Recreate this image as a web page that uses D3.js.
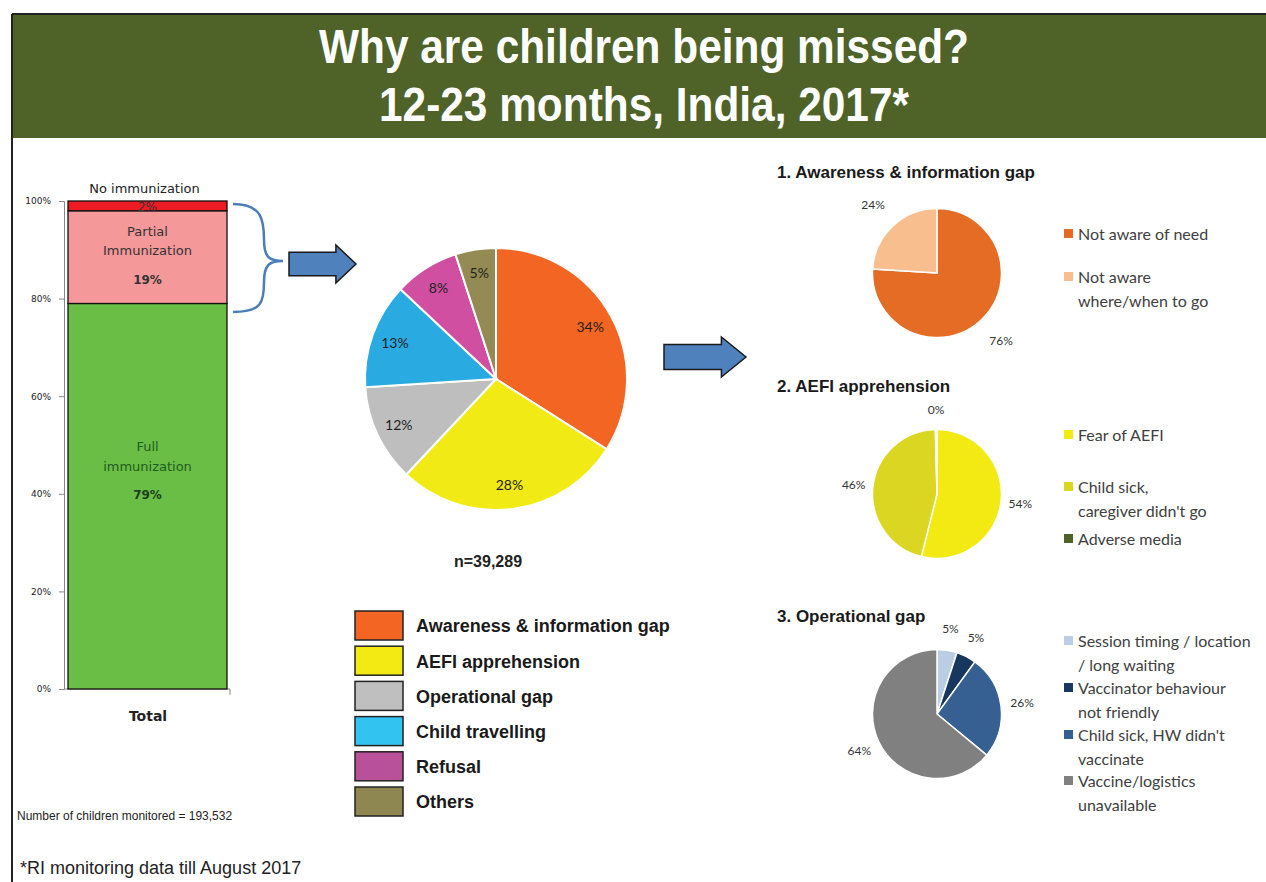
<!DOCTYPE html>
<html>
<head>
<meta charset="utf-8">
<script src="https://cdn.jsdelivr.net/npm/d3@7"></script>
<style>
  body { margin: 0; background: #fff; }
  svg { display: block; }
  .tick text { font-family: Tahoma, "DejaVu Sans", sans-serif; }
</style>
</head>
<body>
<svg class="chart" width="1266" height="882"></svg>
<script>
// stacked bar: coverage of children monitored
const barCats = ["Full immunization", "Partial Immunization", "No immunization"];
const barValues = [79, 19, 2];
const barColors = ["#6abd45", "#f4989a", "#ed1c24"];
const barTicks = [0, 20, 40, 60, 80, 100];

// main pie: reasons for missing
const reasons = ["Awareness & information gap", "AEFI apprehension", "Operational gap", "Child travelling", "Refusal", "Others"];
const reasonValues = [34, 28, 12, 13, 8, 5];
const reasonColors = ["#f26522", "#f2ea14", "#bebebe", "#29abe2", "#d04fa0", "#948a54"];
const legendColors = ["#f26522", "#f2ea12", "#bfbfbf", "#33c3f0", "#b9519a", "#8f8752"];

// sub pies
const awareCats = ["Not aware of need", "Not aware\nwhere/when to go"];
const awareValues = [76, 24];
const awareColors = ["#e46c24", "#f9be8e"];

const aefiCats = ["Fear of AEFI", "Child sick,\ncaregiver didn't go", "Adverse media"];
const aefiValues = [53.9, 45.7, 0.4];
const aefiColors = ["#f2ea12", "#dad622", "#4f6228"];

const opCats = ["Session timing / location\n/ long waiting", "Vaccinator behaviour\nnot friendly", "Child sick, HW didn't\nvaccinate", "Vaccine/logistics\nunavailable"];
const opValues = [5, 5, 26, 64];
const opColors = ["#b9cde5", "#17375e", "#376092", "#808080"];

const svg = d3.select(".chart");

// frame + header
svg.append("line").attr("x1", 12).attr("x2", 1266).attr("y1", 14).attr("y2", 14)
   .attr("stroke", "#222").attr("stroke-width", 2);
svg.append("line").attr("x1", 12).attr("x2", 12).attr("y1", 14).attr("y2", 882)
   .attr("stroke", "#222").attr("stroke-width", 2);
svg.append("rect").attr("x", 13).attr("y", 15).attr("width", 1253).attr("height", 123)
   .attr("fill", "#4f6228");

let titleLines = [["Why are children being missed?", 63, 650], ["12-23 months, India, 2017*", 121, 530]];
titleLines.forEach(t => {
	svg.append("text")
	   .attr("x", 644).attr("y", t[1])
	   .attr("text-anchor", "middle")
	   .attr("textLength", t[2]).attr("lengthAdjust", "spacingAndGlyphs")
	   .attr("fill", "#fff")
	   .style("font-family", "'Liberation Sans Narrow', 'Arial Narrow', 'Liberation Sans', Arial, sans-serif")
	   .style("font-weight", "bold").style("font-size", "48px")
	   .text(t[0]);
});

// ---- stacked bar ----
let yScale = d3.scaleLinear().domain([0, 100]).range([689, 201]);
let bx = 68, bw = 159;

let gb = svg.append("g");
gb.append("g")
  .attr("transform", "translate(64,0)")
  .call(d3.axisLeft(yScale).tickValues(barTicks).tickFormat(d => d + "%").tickSize(5).tickPadding(8))
  .call(g => g.select(".domain").attr("stroke", "#888"))
  .call(g => g.selectAll(".tick line").attr("stroke", "#888"))
  .call(g => g.selectAll(".tick text").style("font-size", "9px").attr("fill", "#222"));
// baseline
gb.append("line").attr("x1", 64).attr("x2", 230).attr("y1", 689).attr("y2", 689).attr("stroke", "#888");
gb.append("line").attr("x1", 230).attr("x2", 230).attr("y1", 689).attr("y2", 695).attr("stroke", "#888");

let cum = 0;
let stack = barValues.map(v => { let s = {y0: cum, y1: cum + v}; cum += v; return s; });
stack.forEach((s, i) => {
	gb.append("rect")
	  .attr("x", bx).attr("width", bw)
	  .attr("y", yScale(s.y1)).attr("height", yScale(s.y0) - yScale(s.y1))
	  .attr("fill", barColors[i]).attr("stroke", "#111").attr("stroke-width", 1.3);
});
const lab = (x, y, txt, size, weight, color) => gb.append("text")
	.attr("x", x).attr("y", y).attr("text-anchor", "middle")
	.style("font-family", "Tahoma, 'DejaVu Sans', sans-serif")
	.style("font-size", size + "px").style("font-weight", weight || "normal")
	.attr("fill", color || "#222").text(txt);
let mid = bx + bw / 2;
lab(mid - 3, 193, "No immunization", 13);
lab(mid, yScale(stack[2].y0 + 1) + 5, barValues[2] + "%", 12, "normal", "#333");
lab(mid, 236, "Partial", 13, "normal", "#333");
lab(mid, 255, "Immunization", 13, "normal", "#333");
lab(mid, 284, barValues[1] + "%", 12, "bold", "#333");
lab(mid, 451, "Full", 13, "normal", "#1e5e1e");
lab(mid, 471, "immunization", 13, "normal", "#1e5e1e");
lab(mid, 499, barValues[0] + "%", 12, "bold", "#1e3e1e");
lab(148, 721, "Total", 14, "bold", "#222");

// brace
svg.append("path")
   .attr("d", "M233,204 C262,204 264,220 264,240 C264,258 270,261 283,261 C270,261 264,264 264,282 C264,302 262,312 233,312")
   .attr("fill", "none").attr("stroke", "#4a7ebb").attr("stroke-width", 2.5);

// arrows
function arrow(x, y, w, h) {
	let hw = h * 0.5, head = w * 0.3;
	let p = [[x, y - hw * 0.62], [x + w - head, y - hw * 0.62], [x + w - head, y - hw], [x + w, y],
	         [x + w - head, y + hw], [x + w - head, y + hw * 0.62], [x, y + hw * 0.62]];
	svg.append("path").attr("d", d3.line()(p) + "Z")
	   .attr("fill", "#4f81bd").attr("stroke", "#1a1a1a").attr("stroke-width", 1.5);
}
arrow(289, 264, 67, 38);
arrow(664, 357, 82, 40);

// ---- main pie ----
let pie = d3.pie().sort(null).value(d => d);
let R = 131;
let gp = svg.append("g").attr("transform", "translate(496,379)");
let arcs = pie(reasonValues);
let arc = d3.arc().innerRadius(0).outerRadius(R);
let labArc = d3.arc().innerRadius(R * 0.82).outerRadius(R * 0.82);
gp.selectAll("path").data(arcs).enter().append("path")
  .attr("d", arc).attr("fill", (d, i) => reasonColors[i])
  .attr("stroke", "#fff").attr("stroke-width", 2);
gp.selectAll("text").data(arcs).enter().append("text")
  .attr("transform", d => `translate(${labArc.centroid(d)})`)
  .attr("text-anchor", "middle").attr("dy", "0.35em")
  .style("font-family", "Lato, 'Open Sans', sans-serif").style("font-size", "14px")
  .attr("fill", "#222")
  .text(d => d.data + "%");

svg.append("text").attr("x", 488).attr("y", 567).attr("text-anchor", "middle")
   .style("font-family", "'Liberation Sans', Arial, sans-serif").style("font-weight", "bold").style("font-size", "16px")
   .attr("fill", "#222").text("n=39,289");

// main legend
reasons.forEach((r, i) => {
	let y = 611 + i * 35.2;
	svg.append("rect").attr("x", 355).attr("y", y).attr("width", 48).attr("height", 29)
	   .attr("fill", legendColors[i]).attr("stroke", "#222").attr("stroke-width", 1.5);
	svg.append("text").attr("x", 416).attr("y", y + 15).attr("dy", "0.35em")
	   .style("font-family", "'Liberation Sans', Arial, sans-serif").style("font-weight", "bold").style("font-size", "18px")
	   .attr("fill", "#1a1a1a").text(r);
});

// ---- sub pies ----
function subPie(title, titleY, cx, cy, cats, values, colors, labR, legendYs) {
	svg.append("text").attr("x", 777).attr("y", titleY)
	   .style("font-family", "'Liberation Sans', Arial, sans-serif").style("font-weight", "bold").style("font-size", "17px")
	   .attr("fill", "#1a1a1a").text(title);
	let r = 64.5;
	let g = svg.append("g").attr("transform", `translate(${cx},${cy})`);
	let a = pie(values);
	g.selectAll("path").data(a).enter().append("path")
	 .attr("d", d3.arc().innerRadius(0).outerRadius(r))
	 .attr("fill", (d, i) => colors[i]).attr("stroke", "#fff").attr("stroke-width", 1.5);
	let la = d3.arc().innerRadius(r * labR).outerRadius(r * labR);
	g.selectAll("text").data(a).enter().append("text")
	 .attr("transform", d => `translate(${la.centroid(d)})`)
	 .attr("text-anchor", "middle").attr("dy", "0.35em")
	 .style("font-family", "Lato, 'Open Sans', sans-serif").style("font-size", "12px")
	 .attr("fill", "#333").text(d => Math.round(d.data) + "%");
	cats.forEach((c, i) => {
		let y = legendYs[i];
		svg.append("rect").attr("x", 1064).attr("y", y - 5).attr("width", 9).attr("height", 9).attr("fill", colors[i]);
		c.split("\n").forEach((line, j) => {
			svg.append("text").attr("x", 1078).attr("y", y + j * 24).attr("dy", "0.35em")
			   .style("font-family", "Lato, 'Open Sans', sans-serif").style("font-size", "16px")
			   .attr("fill", "#404040").text(line);
		});
	});
}
subPie("1. Awareness & information gap", 178, 937, 273, awareCats, awareValues, awareColors, 1.45, [234, 277]);
subPie("2. AEFI apprehension", 392, 937, 494, aefiCats, aefiValues, aefiColors, 1.3, [435, 487, 539]);
subPie("3. Operational gap", 622, 937, 714, opCats, opValues, opColors, 1.33, [641, 688, 735, 781]);

// footnotes
svg.append("text").attr("x", 17).attr("y", 820)
   .style("font-family", "'Liberation Sans', Arial, sans-serif").style("font-size", "12px")
   .attr("fill", "#222").text("Number of children monitored = 193,532");
svg.append("text").attr("x", 20).attr("y", 874)
   .style("font-family", "'Liberation Sans', Arial, sans-serif").style("font-size", "18px")
   .attr("fill", "#222").text("*RI monitoring data till August 2017");
</script>
</body>
</html>
